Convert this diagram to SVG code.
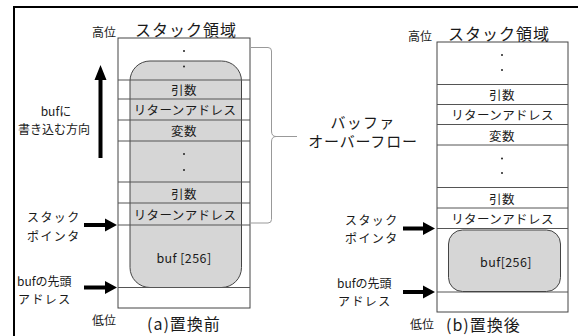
<svg xmlns="http://www.w3.org/2000/svg" width="578" height="336" viewBox="0 0 578 336">
<style>
text{font-family:"Noto Sans CJK JP","Noto Sans",sans-serif;fill:#1a1a1a;dominant-baseline:central}
.c{text-anchor:middle}
.r{font-size:12.5px;letter-spacing:0.4px}
.t{font-size:16px;letter-spacing:1px}
.s{font-size:12px}
.l{font-size:12px;letter-spacing:1.4px}
.box{fill:#fff;stroke:#444;stroke-width:1}
.ln{stroke:#555;stroke-width:1}
.buf{fill:#d6d6d6;stroke:#444;stroke-width:1}
.arr{fill:#000}
</style>
<rect width="578" height="336" fill="#fff"/>
<path d="M14 336 V7 H578" fill="none" stroke="#000" stroke-width="2"/>

<g id="stack-a">
<rect class="box" x="118" y="38" width="132" height="270"/>
<rect class="buf" x="130" y="61" width="111.5" height="226.5" rx="20" ry="20"/>
<line class="ln" x1="118" y1="80" x2="250" y2="80"/>
<line class="ln" x1="118" y1="99" x2="250" y2="99"/>
<line class="ln" x1="118" y1="120" x2="250" y2="120"/>
<line class="ln" x1="118" y1="141" x2="250" y2="141"/>
<line class="ln" x1="118" y1="182" x2="250" y2="182"/>
<line class="ln" x1="118" y1="203" x2="250" y2="203"/>
<line class="ln" x1="118" y1="225" x2="250" y2="225"/>
<line class="ln" x1="118" y1="287.5" x2="250" y2="287.5"/>
<circle cx="184" cy="51" r="1" fill="#222"/>
<circle cx="184" cy="66.5" r="1" fill="#222"/>
<text class="c r" x="184" y="89.5">引数</text>
<text class="c r" x="185" y="109.5">リターンアドレス</text>
<text class="c r" x="184" y="130.5">変数</text>
<circle cx="184" cy="154" r="1" fill="#222"/>
<circle cx="184" cy="170" r="1" fill="#222"/>
<text class="c r" x="184" y="193">引数</text>
<text class="c r" x="185" y="214">リターンアドレス</text>
<text class="c r" x="184" y="257">buf [256]</text>
<text class="s" x="92" y="31">高位</text>
<text class="t" x="135" y="29">スタック領域</text>
<text class="s" x="92" y="319">低位</text>
<text class="t" x="147" y="322.5">(a)置換前</text>
</g>

<g id="stack-b">
<rect class="box" x="437" y="42" width="131" height="270"/>
<line class="ln" x1="437" y1="84.5" x2="568" y2="84.5"/>
<line class="ln" x1="437" y1="104.5" x2="568" y2="104.5"/>
<line class="ln" x1="437" y1="124.5" x2="568" y2="124.5"/>
<line class="ln" x1="437" y1="145" x2="568" y2="145"/>
<line class="ln" x1="437" y1="187.5" x2="568" y2="187.5"/>
<line class="ln" x1="437" y1="208" x2="568" y2="208"/>
<line class="ln" x1="437" y1="228.5" x2="568" y2="228.5"/>
<line class="ln" x1="437" y1="292" x2="568" y2="292"/>
<rect class="buf" x="448.5" y="230" width="112" height="61.5" rx="14" ry="14"/>
<circle cx="502" cy="55" r="1" fill="#222"/>
<circle cx="502" cy="70" r="1" fill="#222"/>
<text class="c r" x="502" y="94.5">引数</text>
<text class="c r" x="502.5" y="114">リターンアドレス</text>
<text class="c r" x="502" y="135">変数</text>
<circle cx="502" cy="158.5" r="1" fill="#222"/>
<circle cx="502" cy="173" r="1" fill="#222"/>
<text class="c r" x="502" y="198">引数</text>
<text class="c r" x="502.5" y="218">リターンアドレス</text>
<text class="c r" x="506" y="261">buf[256]</text>
<text class="s" x="408" y="35">高位</text>
<text class="t" x="448" y="33">スタック領域</text>
<text class="s" x="410" y="323">低位</text>
<text class="t" x="446" y="324">(b)置換後</text>
</g>

<g id="label-direction">
<text class="c s" x="56" y="110">bufに</text>
<text class="c s" x="54" y="128">書き込む方向</text>
</g>
<g id="label-sp-a">
<text class="l" x="27" y="216.5">スタック</text>
<text class="l" x="27" y="235">ポインタ</text>
</g>
<g id="label-buf-a">
<text class="s" x="17" y="280">bufの先頭</text>
<text class="l" x="18" y="298">アドレス</text>
</g>
<g id="label-sp-b">
<text class="l" x="345" y="219">スタック</text>
<text class="l" x="345" y="237.5">ポインタ</text>
</g>
<g id="label-buf-b">
<text class="s" x="337" y="282">bufの先頭</text>
<text class="l" x="338" y="300.5">アドレス</text>
</g>
<g id="label-overflow">
<text class="c" x="363" y="121" style="font-size:15px;letter-spacing:1.2px">バッファ</text>
<text class="c" x="363" y="140.5" style="font-size:15px;letter-spacing:0.8px">オーバーフロー</text>
</g>

<g id="connectors">
<polygon class="arr" points="98.5,158 98.5,80 94.5,80 100.5,65 106.5,80 102.5,80 102.5,158"/>
<polygon class="arr" points="84,223 105,223 105,218.5 117,225 105,231.5 105,227 84,227"/>
<polygon class="arr" points="84,285.5 105,285.5 105,281 117,287.5 105,294 105,289.5 84,289.5"/>
<polygon class="arr" points="403,226.5 423,226.5 423,222 435,228.5 423,235 423,230.5 403,230.5"/>
<polygon class="arr" points="403,290 423,290 423,285.5 435,292 423,298.5 423,294 403,294"/>
<path d="M251 47.5 H268 Q271.5 47.5 271.5 51 V131 Q271.5 136.5 276 136.5 H297 H276 Q271.5 136.5 271.5 142 V219.5 Q271.5 223 268 223 H251" fill="none" stroke="#999" stroke-width="1"/>
</g>
</svg>
